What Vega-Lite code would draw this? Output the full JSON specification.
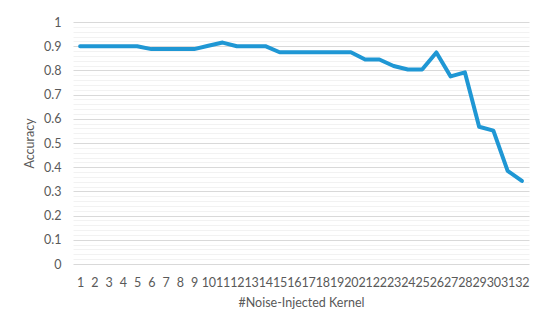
{
  "$schema": "https://vega.github.io/schema/vega-lite/v6.json",
  "width": 456,
  "height": 242,
  "autosize": "none",
  "padding": {"left": 73, "top": 22, "right": 21, "bottom": 71},
  "background": "white",
  "config": {
    "view": {"stroke": null},
    "font": "Lato",
    "axis": {"labelColor": "#595959", "titleColor": "#595959", "labelFont": "Lato", "titleFont": "Lato", "titleFontWeight": "normal"}
  },
  "data": {
    "values": [
      {"k": 1, "acc": 0.9}, {"k": 2, "acc": 0.9}, {"k": 3, "acc": 0.9}, {"k": 4, "acc": 0.9},
      {"k": 5, "acc": 0.9}, {"k": 6, "acc": 0.888}, {"k": 7, "acc": 0.888}, {"k": 8, "acc": 0.888},
      {"k": 9, "acc": 0.888}, {"k": 10, "acc": 0.902}, {"k": 11, "acc": 0.915}, {"k": 12, "acc": 0.9},
      {"k": 13, "acc": 0.9}, {"k": 14, "acc": 0.9}, {"k": 15, "acc": 0.875}, {"k": 16, "acc": 0.875},
      {"k": 17, "acc": 0.875}, {"k": 18, "acc": 0.875}, {"k": 19, "acc": 0.875}, {"k": 20, "acc": 0.875},
      {"k": 21, "acc": 0.845}, {"k": 22, "acc": 0.845}, {"k": 23, "acc": 0.818}, {"k": 24, "acc": 0.804},
      {"k": 25, "acc": 0.804}, {"k": 26, "acc": 0.874}, {"k": 27, "acc": 0.775}, {"k": 28, "acc": 0.792},
      {"k": 29, "acc": 0.567}, {"k": 30, "acc": 0.551}, {"k": 31, "acc": 0.385}, {"k": 32, "acc": 0.343}
    ]
  },
  "mark": {"type": "line", "color": "#1F97D4", "strokeWidth": 4, "strokeJoin": "round", "strokeCap": "round"},
  "encoding": {
    "x": {
      "field": "k", "type": "ordinal",
      "scale": {"type": "point", "padding": 0.5},
      "axis": {
        "title": "#Noise-Injected Kernel", "labelAngle": 0, "labelOverlap": false,
        "domain": false, "ticks": false, "labelPadding": 12, "labelFontSize": 12.5,
        "titleFontSize": 12.5, "titlePadding": 8
      }
    },
    "y": {
      "field": "acc", "type": "quantitative",
      "scale": {"domain": [0, 1], "nice": false},
      "axis": {
        "title": "Accuracy", "domain": false, "ticks": false,
        "values": [0,0.02,0.04,0.06,0.08,0.1,0.12,0.14,0.16,0.18,0.2,0.22,0.24,0.26,0.28,0.3,0.32,0.34,0.36,0.38,0.4,0.42,0.44,0.46,0.48,0.5,0.52,0.54,0.56,0.58,0.6,0.62,0.64,0.66,0.68,0.7,0.72,0.74,0.76,0.78,0.8,0.82,0.84,0.86,0.88,0.9,0.92,0.94,0.96,0.98,1],
        "labelExpr": "abs(datum.value*10 - round(datum.value*10)) < 0.001 ? datum.label : ''",
        "format": "~g",
        "gridColor": {"condition": {"test": "abs(datum.value*10 - round(datum.value*10)) < 0.001", "value": "#D9D9D9"}, "value": "#F2F2F2"},
        "gridWidth": 1,
        "labelPadding": 12, "labelFontSize": 12.5, "titleFontSize": 12.5, "titlePadding": 7
      }
    }
  }
}
